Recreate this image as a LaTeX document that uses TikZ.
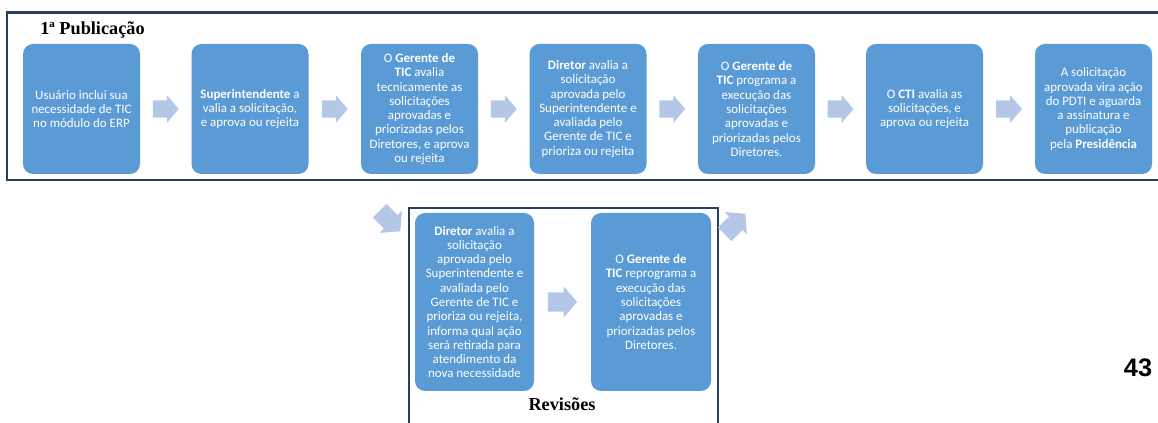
\documentclass[tikz,border=0pt]{standalone}
\usepackage{fontspec}
\setmainfont{Carlito}
\newfontfamily\serifb{Liberation Serif}
\newfontfamily\arialf{Liberation Sans}
\usetikzlibrary{calc}
\definecolor{boxblue}{HTML}{5B9BD5}
\definecolor{arrowblue}{HTML}{B4C7E7}
\definecolor{framecol}{HTML}{243F60}
\tikzset{
  stepbox/.style={draw=none, fill=boxblue, rounded corners=7.5pt, text=white,
    align=center, font=\fontsize{9.7}{10.7}\selectfont, inner sep=0pt,
    minimum width=87.75pt, minimum height=97.5pt},
  revbox/.style={stepbox, minimum width=89.25pt, minimum height=133.5pt},
  barrow/.pic={\fill[arrowblue] (-9.75pt,-6.4pt) -- (0.75pt,-6.4pt) -- (0.75pt,-10.5pt)
     -- (9.75pt,0pt) -- (0.75pt,10.5pt) -- (0.75pt,6.4pt) -- (-9.75pt,6.4pt) -- cycle;},
  framel/.style={draw=framecol, line width=1.6pt},
  titlelbl/.style={font=\serifb\bfseries\fontsize{13.7}{16}\selectfont, inner sep=0pt},
}
\begin{document}
\begin{tikzpicture}[x=0.75pt,y=-0.75pt]
\useasboundingbox (0,0) rectangle (1158,423);
% frames
\draw[framel] (1158,12.5) -- (7,12.5) -- (7,180) -- (1158,180);
\draw[framel] (409,423) -- (409,208) -- (718,208) -- (718,423);
% labels
\node[titlelbl, anchor=base west] (pub) at (40,35) {1ª Publicação};
\node[titlelbl, anchor=base] (rev) at (562,411) {Revisões};
\node[inner sep=0pt, anchor=base, font=\arialf\bfseries\fontsize{19}{20}\selectfont] (pg) at (1138,377) {43};
% top boxes
\node[stepbox] (b1) at (81.5,109) {Usuário inclui sua\\necessidade de TIC\\no módulo do ERP};
\node[stepbox] (b2) at (250,109) {\textbf{Superintendente} a\\valia a solicitação,\\e aprova ou rejeita};
\node[stepbox] (b3) at (419.5,109) {O \textbf{Gerente de}\\\textbf{TIC} avalia\\tecnicamente as\\solicitações\\aprovadas e\\priorizadas pelos\\Diretores, e aprova\\ou rejeita};
\node[stepbox] (b4) at (588,109) {\textbf{Diretor} avalia a\\solicitação\\aprovada pelo\\Superintendente e\\avaliada pelo\\Gerente de TIC e\\prioriza ou rejeita};
\node[stepbox] (b5) at (756.5,109) {O \textbf{Gerente de}\\\textbf{TIC} programa a\\execução das\\solicitações\\aprovadas e\\priorizadas pelos\\Diretores.};
\node[stepbox] (b6) at (924.5,109) {O \textbf{CTI} avalia as\\solicitações, e\\aprova ou rejeita};
\node[stepbox] (b7) at (1093.5,109) {A solicitação\\aprovada vira ação\\do PDTI e aguarda\\a assinatura e\\publicação\\pela \textbf{Presidência}};
% bottom boxes
\node[revbox] (b8) at (474.5,302) {\textbf{Diretor} avalia a\\solicitação\\aprovada pelo\\Superintendente e\\avaliada pelo\\Gerente de TIC e\\prioriza ou rejeita,\\informa qual ação\\será retirada para\\atendimento da\\nova necessidade};
\node[revbox, minimum width=90pt] (b9) at (651,302) {O \textbf{Gerente de}\\\textbf{TIC} reprograma a\\execução das\\solicitações\\aprovadas e\\priorizadas pelos\\Diretores.};
% arrows
\pic at ($(b1.east)!0.5!(b2.west)$) {barrow};
\pic at ($(b2.east)!0.5!(b3.west)$) {barrow};
\pic at ($(b3.east)!0.5!(b4.west)$) {barrow};
\pic at ($(b4.east)!0.5!(b5.west)$) {barrow};
\pic at ($(b5.east)!0.5!(b6.west)$) {barrow};
\pic at ($(b6.east)!0.5!(b7.west)$) {barrow};
\pic[scale=1.12] at ($(b8.east)!0.5!(b9.west)$) {barrow};
\pic[rotate=-45, scale=1.12] at (390,221) {barrow};
\pic[rotate=45, scale=1.12] at (735,224) {barrow};
\end{tikzpicture}
\end{document}
